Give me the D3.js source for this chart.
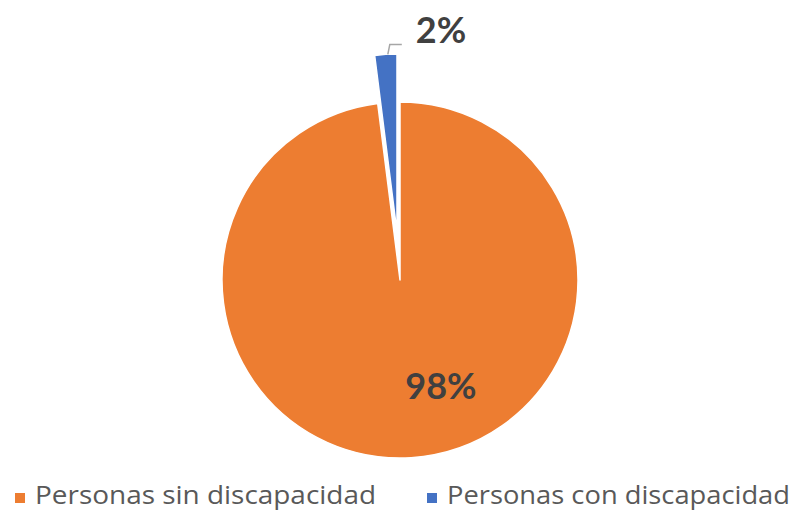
<!DOCTYPE html>
<html>
<head>
<meta charset="utf-8">
<script src="https://cdn.jsdelivr.net/npm/d3@7"></script>
<style>
    body { margin: 0; background: #fff; }
    svg { display: block; }
</style>
</head>
<body>
<svg id="chart" width="798" height="512"></svg>
<script>
    // Data
    const categories = ['Personas sin discapacidad', 'Personas con discapacidad'];
    const values = [98, 2];
    const labels = ['98%', '2%'];
    const colors = ['#ED7D31', '#4472C4'];

    // Layout
    const CX = 400, CY = 280, RADIUS = 178;
    const EXPLODE = [0, 48];

    const svg = d3.select('#chart');

    const pie = d3.pie().sort(null).value((d) => d.value);
    const arc = d3.arc().innerRadius(0).outerRadius(RADIUS);

    const slices = pie(categories.map((c, i) => ({ name: c, value: values[i], color: colors[i], label: labels[i], explode: EXPLODE[i] })));

    const offset = (s) => {
        const a = (s.startAngle + s.endAngle) / 2;
        return [Math.sin(a) * s.data.explode, -Math.cos(a) * s.data.explode];
    };

    const g = svg.append('g')
        .attr('transform', 'translate(' + CX + ',' + CY + ')');

    g.selectAll('path')
        .data(slices)
        .enter().append('path')
            .attr('d', arc)
            .attr('transform', (s) => 'translate(' + offset(s) + ')')
            .attr('fill', (s) => s.data.color)
            .attr('stroke', 'white')
            .attr('stroke-width', 1.5)
            .attr('stroke-linejoin', 'round');

    // Leader line for the small slice
    const small = slices[1];
    const [ox, oy] = offset(small);
    const mid = (small.startAngle + small.endAngle) / 2;
    const p0 = [ox + Math.sin(mid) * RADIUS + 2, oy - Math.cos(mid) * RADIUS];
    const p1 = [p0[0] + 2, p0[1] - 10];
    const p2 = [p1[0] + 12, p1[1]];
    g.append('polyline')
        .attr('points', [p0, p1, p2].map((p) => p.join(',')).join(' '))
        .attr('fill', 'none')
        .attr('stroke', '#A6A6A6')
        .attr('stroke-width', 1.5);

    // Data labels
    const labelPos = [[41, 119], [41, -237]];
    g.selectAll('text.label')
        .data(slices)
        .enter().append('text')
            .attr('class', 'label')
            .attr('x', (s, i) => labelPos[i][0])
            .attr('y', (s, i) => labelPos[i][1])
            .attr('text-anchor', 'middle')
            .attr('font-family', 'Lato, "Open Sans", sans-serif')
            .attr('font-weight', 'bold')
            .attr('font-size', 36)
            .attr('fill', '#404040')
            .text((s) => s.data.label);

    // Legend
    const legendX = [15, 427];
    const legend = svg.append('g')
        .selectAll('g')
        .data(slices)
        .enter().append('g')
            .attr('transform', (s, i) => 'translate(' + legendX[i] + ',493)');
    legend.append('rect')
        .attr('width', 10)
        .attr('height', 10)
        .attr('fill', (s) => s.data.color);
    legend.append('text')
        .attr('x', 20)
        .attr('y', 11)
        .attr('font-family', '"Open Sans", sans-serif')
        .attr('font-size', 26)
        .attr('fill', '#595959')
        .attr('textLength', (s, i) => i === 0 ? 341 : 343)
        .attr('lengthAdjust', 'spacingAndGlyphs')
        .text((s) => s.data.name);
</script>
</body>
</html>
